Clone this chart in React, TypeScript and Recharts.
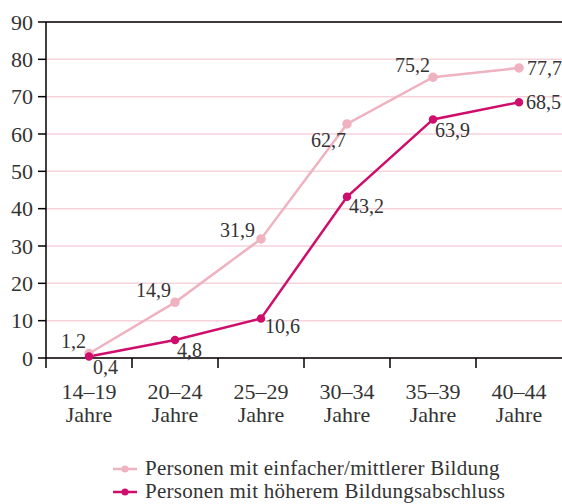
import React from "react";
import {
  LineChart,
  Line,
  XAxis,
  YAxis,
  CartesianGrid,
  ReferenceLine,
  LabelList,
  Legend,
} from "recharts";

const ageGroups = ["14–19", "20–24", "25–29", "30–34", "35–39", "40–44"];
const simpleEdu = [1.2, 14.9, 31.9, 62.7, 75.2, 77.7];
const higherEdu = [0.4, 4.8, 10.6, 43.2, 63.9, 68.5];
const yTicks = [0, 10, 20, 30, 40, 50, 60, 70, 80, 90];
const seriesNames = [
  "Personen mit einfacher/mittlerer Bildung",
  "Personen mit höherem Bildungsabschluss",
];

const data = ageGroups.map((g, i) => ({
  name: g,
  simple: simpleEdu[i],
  higher: higherEdu[i],
}));

const FONT = "'Liberation Serif', 'DejaVu Serif', serif";
const TEXT = "#333";
const LIGHT = "#efb2c0";
const DARK = "#cf0e6c";
const W = 562;
const H = 504;
const AXIS_W = 46;
const HALF_BAND = (W - AXIS_W) / ageGroups.length / 2;

// label placement per point: [anchor, dx, dy]
const lightPos: [string, number, number][] = [
  ["end", -3, -13],
  ["end", -4, -12],
  ["end", -6, -9],
  ["end", -1, 16],
  ["end", -3, -12],
  ["start", 8, 0],
];
const darkPos: [string, number, number][] = [
  ["start", 4, 10],
  ["start", 2, 10],
  ["start", 4, 8],
  ["start", 2, 9],
  ["start", 2, 11],
  ["start", 7, 0],
];

const makeLabel = (pos: [string, number, number][]) => (props: any) => {
  const { x, y, value, index } = props;
  const [anchor, dx, dy] = pos[index];
  return (
    <text
      x={x + dx}
      y={y + dy}
      textAnchor={anchor as any}
      dominantBaseline="central"
      fontFamily={FONT}
      fontSize={20}
      fill={TEXT}
    >
      {String(value).replace(".", ",")}
    </text>
  );
};

const XTick = (props: any) => {
  const { x, y, payload } = props;
  return (
    <g>
      <line x1={x - HALF_BAND} x2={x - HALF_BAND} y1={y - 10} y2={y} stroke="#000" strokeWidth={1.5} />
      <text x={x} y={y + 31} textAnchor="middle" fontFamily={FONT} fontSize={22} fill={TEXT}>
        {payload.value}
      </text>
      <text x={x} y={y + 54} textAnchor="middle" fontFamily={FONT} fontSize={22} fill={TEXT}>
        Jahre
      </text>
    </g>
  );
};

const LegendBox = () => (
  <div style={{ height: 60, paddingTop: 13, boxSizing: "border-box", paddingLeft: 112 }}>
    {seriesNames.map((n, i) => (
      <div key={n} style={{ display: "flex", alignItems: "center", height: 23 }}>
        <svg width={26} height={10} style={{ marginRight: 7 }}>
          <line x1={1} x2={25} y1={5} y2={5} stroke={i === 0 ? LIGHT : DARK} strokeWidth={2.5} />
          <circle cx={13} cy={5} r={3.5} fill={i === 0 ? LIGHT : DARK} />
        </svg>
        <span
          style={{
            fontFamily: FONT,
            fontSize: 21,
            color: TEXT,
            lineHeight: "23px",
            whiteSpace: "nowrap",
            letterSpacing: 0.25,
          }}
        >
          {n}
        </span>
      </div>
    ))}
  </div>
);

export default function App() {
  return (
    <div style={{ position: "absolute", left: 0, top: 0, background: "#fff" }}>
      <LineChart width={W} height={H} data={data} margin={{ top: 22, right: 0, left: 0, bottom: 0 }}>
        <CartesianGrid horizontal vertical={false} stroke="#f6d3db" strokeWidth={1.5} />
        <ReferenceLine y={90} stroke="#000" strokeWidth={1.5} />
        <XAxis
          dataKey="name"
          scale="band"
          axisLine={{ stroke: "#000", strokeWidth: 1.5 }}
          tickLine={false}
          tickSize={10}
          tickMargin={0}
          height={86}
          interval={0}
          tick={<XTick />}
        />
        <YAxis
          domain={[0, 90]}
          ticks={yTicks}
          width={AXIS_W}
          axisLine={{ stroke: "#000", strokeWidth: 1.5 }}
          tickLine={{ stroke: "#000", strokeWidth: 1.5 }}
          tickSize={8}
          tickMargin={5}
          tick={{ fontFamily: FONT, fontSize: 22, fill: TEXT }}
        />
        <Legend verticalAlign="bottom" content={<LegendBox />} />
        <Line
          dataKey="simple"
          stroke={LIGHT}
          strokeWidth={2.5}
          dot={{ r: 3.5, fill: LIGHT, stroke: LIGHT }}
          isAnimationActive={false}
        >
          <LabelList dataKey="simple" content={makeLabel(lightPos)} />
        </Line>
        <Line
          dataKey="higher"
          stroke={DARK}
          strokeWidth={2.5}
          dot={{ r: 3, fill: DARK, stroke: DARK }}
          isAnimationActive={false}
        >
          <LabelList dataKey="higher" content={makeLabel(darkPos)} />
        </Line>
      </LineChart>
    </div>
  );
}
